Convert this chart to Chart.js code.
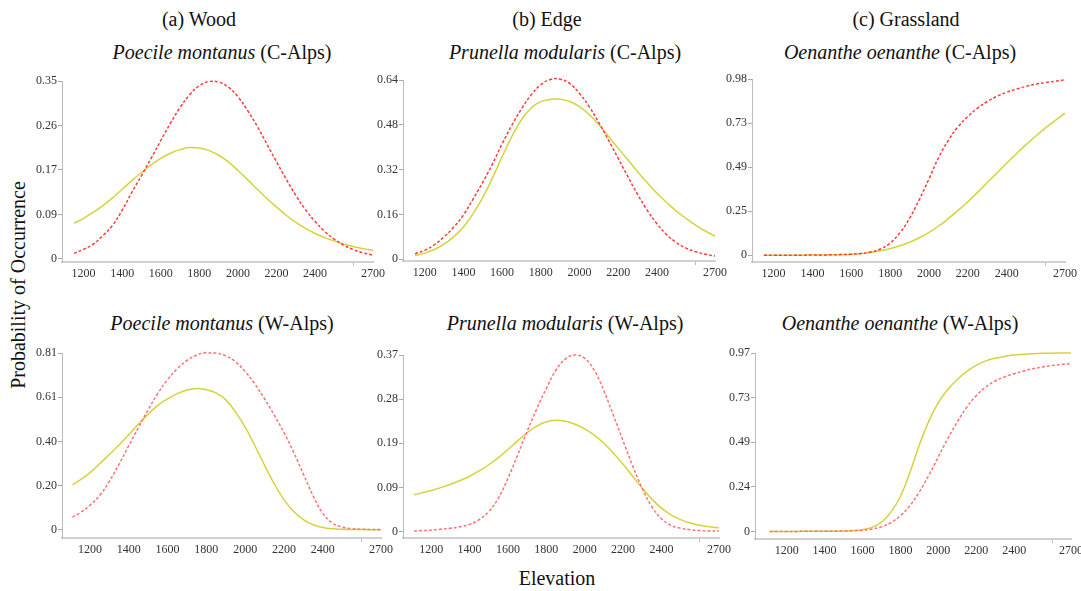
<!DOCTYPE html>
<html><head><meta charset="utf-8">
<script src="https://cdn.jsdelivr.net/npm/chart.js@4"></script>
<style>
html,body{margin:0;padding:0;background:#fff;}
body{width:1081px;height:591px;position:relative;overflow:hidden;font-family:"Liberation Serif","Times New Roman",serif;}
canvas{position:absolute;}
.t{position:absolute;white-space:nowrap;font-size:20px;color:#111;line-height:20px;height:20px;transform:translateX(-50%);}
.yl{position:absolute;white-space:nowrap;font-size:20px;color:#111;line-height:20px;transform:translate(-50%,-50%) rotate(-90deg);}
</style></head><body>
<div class="t" style="left:199px;top:9px;">(a) Wood</div>
<div class="t" style="left:547px;top:9px;">(b) Edge</div>
<div class="t" style="left:906px;top:9px;">(c) Grassland</div>
<div class="t" style="left:222px;top:42px;"><i>Poecile montanus</i> (C-Alps)</div>
<div class="t" style="left:565px;top:42px;"><i>Prunella modularis</i> (C-Alps)</div>
<div class="t" style="left:900px;top:42px;"><i>Oenanthe oenanthe</i> (C-Alps)</div>
<div class="t" style="left:222px;top:313px;"><i>Poecile montanus</i> (W-Alps)</div>
<div class="t" style="left:565px;top:313px;"><i>Prunella modularis</i> (W-Alps)</div>
<div class="t" style="left:900px;top:313px;"><i>Oenanthe oenanthe</i> (W-Alps)</div>
<div class="t" style="left:557px;top:568px;">Elevation</div>
<div class="yl" style="left:18px;top:285px;">Probability of Occurrence</div>
<script>
// ---- data ----
const elevTop = [1150,1200,1250,1300,1350,1400,1450,1500,1550,1600,1650,1700,1750,1800,1850,1900,1950,2000,2050,2100,2150,2200,2250,2300,2350,2400,2450,2500,2550,2600,2650,2700];
const elevBottom = [1110,1150,1200,1250,1300,1350,1400,1450,1500,1550,1600,1650,1700,1750,1800,1850,1900,1950,2000,2050,2100,2150,2200,2250,2300,2350,2400,2450,2500,2550,2600,2650,2700];

const xTickValues = [1200,1400,1600,1800,2000,2200,2400,2600,2700];
const xTickLabels = ['1200','1400','1600','1800','2000','2200','2400','','2700'];

// (a) Wood, C-Alps: Poecile montanus
const poecileC_red    = [0.011,0.019,0.029,0.046,0.066,0.096,0.131,0.164,0.198,0.233,0.267,0.298,0.323,0.341,0.349,0.348,0.338,0.319,0.292,0.261,0.226,0.191,0.157,0.125,0.097,0.0735,0.054,0.0386,0.0268,0.0181,0.0119,0.0075];
const poecileC_yellow = [0.070,0.080,0.092,0.105,0.120,0.137,0.154,0.170,0.185,0.198,0.208,0.215,0.219,0.218,0.213,0.204,0.191,0.174,0.156,0.137,0.119,0.102,0.086,0.072,0.060,0.050,0.042,0.035,0.029,0.024,0.020,0.017];
// (b) Edge, C-Alps: Prunella modularis
const prunellaC_red    = [0.020,0.032,0.052,0.080,0.115,0.158,0.215,0.275,0.340,0.412,0.478,0.537,0.587,0.623,0.642,0.643,0.627,0.592,0.545,0.488,0.425,0.360,0.295,0.232,0.175,0.127,0.088,0.060,0.040,0.027,0.018,0.012];
const prunellaC_yellow = [0.013,0.022,0.035,0.054,0.080,0.115,0.163,0.220,0.290,0.366,0.438,0.498,0.540,0.563,0.571,0.571,0.563,0.545,0.517,0.480,0.438,0.396,0.355,0.313,0.273,0.236,0.203,0.172,0.146,0.122,0.101,0.083];
// (c) Grassland, C-Alps: Oenanthe oenanthe
const oenantheC_red    = [0.000,0.000,0.001,0.001,0.001,0.002,0.002,0.003,0.004,0.006,0.010,0.018,0.035,0.068,0.125,0.205,0.310,0.425,0.545,0.640,0.715,0.772,0.818,0.855,0.884,0.906,0.924,0.939,0.951,0.960,0.968,0.975];
const oenantheC_yellow = [0.000,0.000,0.001,0.001,0.001,0.002,0.002,0.003,0.004,0.006,0.010,0.016,0.025,0.037,0.053,0.073,0.098,0.128,0.163,0.205,0.250,0.298,0.350,0.405,0.458,0.512,0.565,0.615,0.663,0.708,0.750,0.790];
// (a) Wood, W-Alps
const poecileW_red    = [0.058,0.078,0.112,0.157,0.222,0.300,0.385,0.468,0.550,0.625,0.688,0.738,0.776,0.801,0.812,0.810,0.797,0.770,0.725,0.668,0.600,0.525,0.445,0.355,0.255,0.155,0.075,0.030,0.012,0.005,0.002,0.001,0.001];
const poecileW_yellow = [0.205,0.228,0.262,0.302,0.345,0.388,0.435,0.485,0.530,0.570,0.600,0.624,0.640,0.647,0.642,0.627,0.595,0.540,0.470,0.385,0.295,0.210,0.138,0.083,0.046,0.023,0.010,0.004,0.002,0.001,0.001,0.000,0.000];
// (b) Edge, W-Alps
const prunellaW_red    = [0.001,0.002,0.003,0.005,0.007,0.010,0.015,0.025,0.042,0.070,0.112,0.160,0.210,0.257,0.300,0.338,0.362,0.370,0.363,0.338,0.295,0.243,0.190,0.138,0.090,0.052,0.027,0.013,0.007,0.004,0.002,0.001,0.001];
const prunellaW_yellow = [0.077,0.081,0.086,0.092,0.099,0.107,0.116,0.127,0.140,0.155,0.172,0.190,0.207,0.221,0.230,0.233,0.231,0.225,0.215,0.202,0.185,0.164,0.141,0.116,0.091,0.068,0.049,0.035,0.025,0.018,0.013,0.010,0.008];
// (c) Grassland, W-Alps
const oenantheW_red    = [0.000,0.000,0.000,0.000,0.001,0.001,0.001,0.001,0.002,0.004,0.007,0.013,0.025,0.048,0.085,0.140,0.215,0.305,0.405,0.505,0.595,0.675,0.738,0.785,0.818,0.840,0.857,0.872,0.885,0.894,0.902,0.908,0.912];
const oenantheW_yellow = [0.000,0.000,0.000,0.000,0.001,0.001,0.001,0.002,0.003,0.005,0.010,0.022,0.050,0.105,0.190,0.320,0.470,0.600,0.700,0.772,0.826,0.870,0.903,0.927,0.942,0.952,0.959,0.963,0.966,0.968,0.969,0.970,0.970];

// y ticks (values and printed labels)
const yTicksPoecileC  = [0,0.0875,0.175,0.2625,0.35];  const yLabelsPoecileC  = ['0','0.09','0.17','0.26','0.35'];
const yTicksPrunellaC = [0,0.16,0.32,0.48,0.64];       const yLabelsPrunellaC = ['0','0.16','0.32','0.48','0.64'];
const yTicksOenantheC = [0,0.245,0.49,0.735,0.98];     const yLabelsOenantheC = ['0','0.25','0.49','0.73','0.98'];
const yTicksPoecileW  = [0,0.2025,0.405,0.6075,0.81];  const yLabelsPoecileW  = ['0','0.20','0.40','0.61','0.81'];
const yTicksPrunellaW = [0,0.0925,0.185,0.2775,0.37];  const yLabelsPrunellaW = ['0','0.09','0.19','0.28','0.37'];
const yTicksOenantheW = [0,0.2425,0.485,0.7275,0.97];  const yLabelsOenantheW = ['0','0.24','0.49','0.73','0.97'];

// ---- layout / style ----
const FONT = '"Liberation Serif","Times New Roman",serif';
const YELLOW = 'rgb(214,210,60)';
const RED_TOP = 'rgb(255,60,60)';
const RED_BOT = 'rgb(255,115,115)';

const panels = [
  {xs:elevTop, red:poecileC_red, yel:poecileC_yellow, yt:yTicksPoecileC, yl:yLabelsPoecileC, L:62, R:373, T:81, B:262, xmin:1088, ymin:-0.006, ymax:0.35, rc:RED_TOP},
  {xs:elevTop, red:prunellaC_red, yel:prunellaC_yellow, yt:yTicksPrunellaC, yl:yLabelsPrunellaC, L:403, R:715, T:80, B:261, xmin:1088, ymin:-0.006, ymax:0.64, rc:RED_TOP},
  {xs:elevTop, red:oenantheC_red, yel:oenantheC_yellow, yt:yTicksOenantheC, yl:yLabelsOenantheC, L:752, R:1065, T:79, B:262, xmin:1089, ymin:-0.037, ymax:0.98, rc:RED_TOP},
  {xs:elevBottom, red:poecileW_red, yel:poecileW_yellow, yt:yTicksPoecileW, yl:yLabelsPoecileW, L:62, R:381, T:353, B:538, xmin:1056, ymin:-0.038, ymax:0.81, rc:RED_BOT},
  {xs:elevBottom, red:prunellaW_red, yel:prunellaW_yellow, yt:yTicksPrunellaW, yl:yLabelsPrunellaW, L:403, R:719, T:355, B:538, xmin:1053, ymin:-0.0135, ymax:0.37, rc:RED_BOT},
  {xs:elevBottom, red:oenantheW_red, yel:oenantheW_yellow, yt:yTicksOenantheW, yl:yLabelsOenantheW, L:755, R:1071, T:353, B:539, xmin:1033, ymin:-0.041, ymax:0.97, rc:RED_BOT}
];

Chart.defaults.font.family = FONT;

function makePanel(p){
  const YW=46, PT=10, PR=16, XH=30;
  const aw = p.R - p.L, ah = p.B - p.T;
  const cv = document.createElement('canvas');
  cv.width = YW + aw + PR; cv.height = PT + ah + XH;
  cv.style.left = (p.L - YW) + 'px'; cv.style.top = (p.T - PT) + 'px';
  cv.style.width = cv.width + 'px'; cv.style.height = cv.height + 'px';
  document.body.appendChild(cv);
  new Chart(cv, {
    type:'line',
    data:{datasets:[
      {data:p.xs.map((x,i)=>({x:x,y:p.red[i]})), borderColor:p.rc, borderWidth:1.5, borderDash:[3,2], pointRadius:0, tension:0.4, fill:false, clip:false},
      {data:p.xs.map((x,i)=>({x:x,y:p.yel[i]})), borderColor:YELLOW, borderWidth:1.5, pointRadius:0, tension:0.4, fill:false, clip:false}
    ]},
    options:{
      responsive:false, animation:false, devicePixelRatio:1,
      layout:{padding:{top:PT,right:PR,left:0,bottom:0}},
      plugins:{legend:{display:false}, tooltip:{enabled:false}},
      scales:{
        x:{type:'linear', min:p.xmin, max:2700,
           afterFit(s){ s.height = XH; },
           afterBuildTicks(s){ s.ticks = xTickValues.map(v=>({value:v})); },
           ticks:{autoSkip:false, maxRotation:0, minRotation:0, padding:1, color:'#333', font:{size:12, family:FONT},
                  callback:(v,i)=>xTickLabels[i]},
           grid:{drawOnChartArea:false, drawTicks:true, tickLength:4,
                 tickColor:(ctx)=> (ctx.tick && ctx.tick.value===2600) ? '#bdbdbd' : 'rgba(0,0,0,0)'},
           border:{display:true, color:'#d0d0d0', width:2}},
        y:{type:'linear', min:p.ymin, max:p.ymax,
           afterFit(s){ s.width = YW; },
           afterBuildTicks(s){ s.ticks = p.yt.map(v=>({value:v})); },
           ticks:{padding:1, color:'#333', font:{size:12, family:FONT}, callback:(v,i)=>p.yl[i]},
           grid:{drawOnChartArea:false, drawTicks:true, tickLength:4, tickColor:'#aaaaaa'},
           border:{display:true, color:'#bbbbbb', width:1}}
      }
    }
  });
}
panels.forEach(makePanel);
</script>
</body></html>
